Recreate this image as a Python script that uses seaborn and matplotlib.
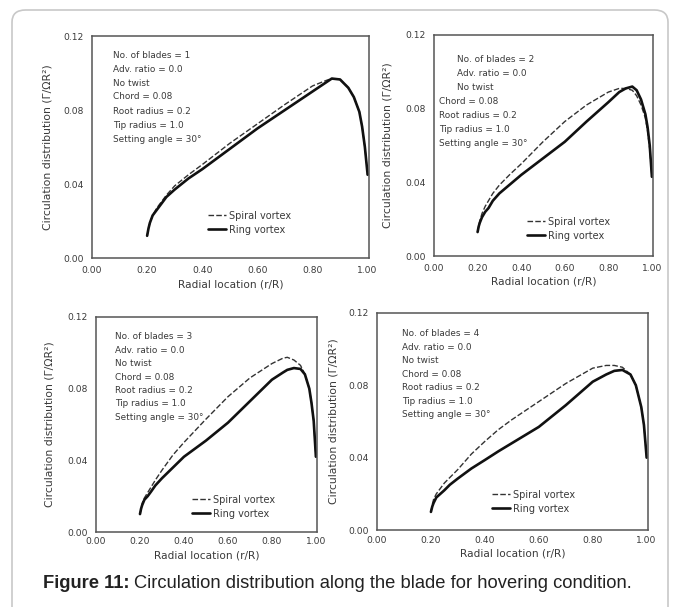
import numpy as np
import pandas as pd
import seaborn as sns
import matplotlib.pyplot as plt
from matplotlib.patches import FancyBboxPatch

sns.set_style("white")
plt.rcParams['font.family'] = ['DejaVu Sans']

# radial stations (r/R) and circulation values
x1 = [0.20, 0.205, 0.21, 0.22, 0.235, 0.25, 0.27, 0.30, 0.35, 0.40, 0.50, 0.60, 0.70, 0.80, 0.85, 0.87, 0.90, 0.93, 0.95, 0.97, 0.98, 0.99, 1.00]
spiral1 = [0.012, 0.016, 0.019, 0.023, 0.027, 0.030, 0.034, 0.039, 0.045, 0.0505, 0.062, 0.0725, 0.083, 0.093, 0.096, 0.097, 0.0965, 0.092, 0.087, 0.079, 0.071, 0.060, 0.045]
ring1 = [0.012, 0.016, 0.019, 0.023, 0.026, 0.029, 0.033, 0.037, 0.043, 0.048, 0.059, 0.070, 0.080, 0.090, 0.095, 0.097, 0.0965, 0.092, 0.087, 0.079, 0.071, 0.060, 0.045]

x2 = [0.20, 0.205, 0.21, 0.22, 0.235, 0.25, 0.27, 0.30, 0.35, 0.40, 0.50, 0.60, 0.70, 0.80, 0.85, 0.88, 0.91, 0.93, 0.95, 0.97, 0.98, 0.99, 1.00]
spiral2 = [0.013, 0.016, 0.019, 0.023, 0.027, 0.030, 0.034, 0.0385, 0.0445, 0.050, 0.062, 0.073, 0.082, 0.089, 0.091, 0.091, 0.090, 0.087, 0.082, 0.075, 0.068, 0.058, 0.043]
ring2 = [0.013, 0.016, 0.018, 0.021, 0.024, 0.026, 0.030, 0.034, 0.039, 0.044, 0.053, 0.062, 0.073, 0.0835, 0.089, 0.091, 0.092, 0.090, 0.085, 0.077, 0.070, 0.060, 0.043]

x3 = [0.20, 0.205, 0.21, 0.22, 0.235, 0.25, 0.27, 0.30, 0.35, 0.40, 0.50, 0.60, 0.70, 0.80, 0.85, 0.87, 0.90, 0.93, 0.95, 0.97, 0.98, 0.99, 1.00]
spiral3 = [0.010, 0.013, 0.016, 0.019, 0.022, 0.025, 0.029, 0.0345, 0.043, 0.050, 0.063, 0.0755, 0.086, 0.094, 0.097, 0.0975, 0.096, 0.093, 0.088, 0.080, 0.072, 0.062, 0.042]
ring3 = [0.010, 0.013, 0.015, 0.018, 0.020, 0.0225, 0.026, 0.030, 0.036, 0.042, 0.051, 0.061, 0.073, 0.085, 0.089, 0.0905, 0.0915, 0.091, 0.088, 0.080, 0.072, 0.062, 0.042]

x4 = [0.20, 0.205, 0.21, 0.22, 0.235, 0.25, 0.27, 0.30, 0.35, 0.40, 0.45, 0.50, 0.60, 0.70, 0.80, 0.85, 0.88, 0.91, 0.94, 0.96, 0.98, 0.99, 1.00]
spiral4 = [0.010, 0.014, 0.017, 0.020, 0.023, 0.026, 0.029, 0.0335, 0.042, 0.049, 0.0555, 0.061, 0.071, 0.081, 0.0895, 0.091, 0.091, 0.090, 0.086, 0.080, 0.068, 0.058, 0.040]
ring4 = [0.010, 0.013, 0.015, 0.018, 0.020, 0.022, 0.025, 0.0285, 0.034, 0.0387, 0.0435, 0.048, 0.057, 0.069, 0.082, 0.086, 0.088, 0.0885, 0.086, 0.080, 0.068, 0.058, 0.040]

blades = [1, 2, 3, 4]
series_names = ['Spiral vortex', 'Ring vortex']
xticks = [0.0, 0.2, 0.4, 0.6, 0.8, 1.0]
xtick_labels = ['0.00', '0.20', '0.40', '0.60', '0.80', '1.00']
yticks = [0.0, 0.04, 0.08, 0.12]
ytick_labels = ['0.00', '0.04', '0.08', '0.12']

panels = [(x1, spiral1, ring1), (x2, spiral2, ring2), (x3, spiral3, ring3), (x4, spiral4, ring4)]

W, H = 678, 607
fig = plt.figure(figsize=(W / 100, H / 100), dpi=100)

# rounded page frame
frame = FancyBboxPatch((12 / W, -0.05), (668 - 12) / W, 1.0 - 10 / H + 0.05,
                       boxstyle="round,pad=0,rounding_size=0.02", transform=fig.transFigure,
                       facecolor='none', edgecolor='#c8c8c8', linewidth=1.2, zorder=0)
fig.patches.append(frame)

# axes boxes in pixels: left, right, top, bottom
boxes = [(92, 369, 36, 258), (434, 653, 35, 256), (96, 317, 317, 532), (377, 648, 313, 530)]
# text block (x, y of first line, line step), legend anchor (x, y) in pixels
text_pos = [(113, 55, 14.0), (457, 59, 14.0), (115, 337, 13.4), (402, 334, 13.4)]
leg_pos = [(203, 206), (522, 212), (187, 490), (487, 485)]
ylab_off = [40, 42, 41, 39]
xlab_off = [21, 20, 18, 19]
xtick_pad = [6, 6, 3.5, 4]

ink = '#3a3a3a'
for i, (xs, sp, rg) in enumerate(panels):
    l, r, t, b = boxes[i]
    ax = fig.add_axes([l / W, 1 - b / H, (r - l) / W, (b - t) / H])
    ax.set_facecolor('none')
    df = pd.DataFrame({'r': xs * 2, 'gamma': sp + rg,
                       'series': [series_names[0]] * len(xs) + [series_names[1]] * len(xs)})
    sns.lineplot(data=df, x='r', y='gamma', hue='series', style='series',
                 palette=['#333333', '#111111'], dashes=[(4, 1.6), ''],
                 size='series', sizes=[1.0, 1.9], ax=ax, sort=False)
    ax.set_xlim(0, 1.005)
    ax.set_ylim(0, 0.12)
    ax.set_xticks(xticks)
    ax.set_xticklabels(xtick_labels)
    ax.set_yticks(yticks)
    ax.set_yticklabels(ytick_labels)
    ax.tick_params(axis='x', direction='in', length=3, pad=xtick_pad[i], labelsize=6.6, colors=ink, width=0.8)
    ax.tick_params(axis='y', direction='out', length=3, pad=3, labelsize=6.6, colors=ink, width=0.8)
    for s in ax.spines.values():
        s.set_color('#555555')
        s.set_linewidth(1.1)
    ax.set_xlabel('Radial location (r/R)', fontsize=7.6, color=ink)
    ax.set_ylabel('Circulation distribution (Γ/ΩR²)', fontsize=7.8, color=ink)
    ax.yaxis.set_label_coords(-ylab_off[i] / (r - l), 0.5)
    ax.xaxis.set_label_coords(0.5, -xlab_off[i] / (b - t))

    lines = ['No. of blades = %d' % blades[i], 'Adv. ratio = 0.0', 'No twist', 'Chord = 0.08',
             'Root radius = 0.2', 'Tip radius = 1.0', 'Setting angle = 30°']
    tx, ty, step = text_pos[i]
    for k, s in enumerate(lines):
        xx = tx
        if i == 1 and k >= 3:
            xx = 439
        fig.text(xx / W, 1 - (ty + k * step) / H, s, fontsize=6.4, color=ink, va='center', ha='left')

    handles, labels = ax.get_legend_handles_labels()
    lx, ly = leg_pos[i]
    ax.legend(handles, labels, loc='upper left', bbox_to_anchor=((lx - l) / (r - l), (b - ly) / (b - t)),
              frameon=False, fontsize=7.0, handlelength=1.9, handletextpad=0.3,
              labelspacing=0.4, borderpad=0, labelcolor=ink)

cap1 = fig.text(43 / W, 1 - 584 / H, 'Figure 11:', fontsize=13.2, fontweight='bold',
                family='Liberation Sans', va='center', ha='left', color='#222222')
fig.canvas.draw()
bb = cap1.get_window_extent()
fig.text((bb.x1 + 4) / W, 1 - 584 / H, 'Circulation distribution along the blade for hovering condition.',
         fontsize=13.2, family='Liberation Sans', va='center', ha='left', color='#222222')

fig.savefig('out.png', dpi=100)
